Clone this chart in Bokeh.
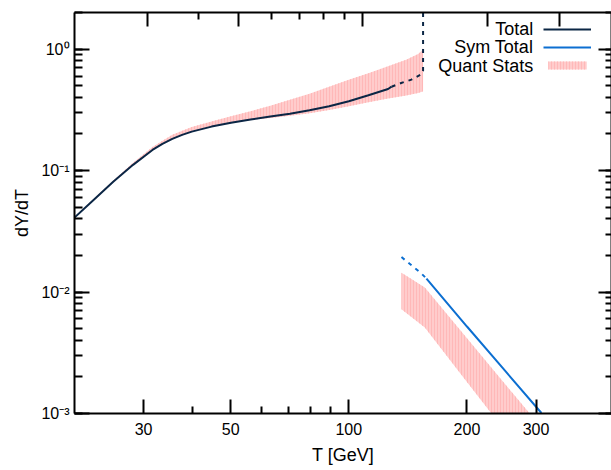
from bokeh.plotting import figure
from bokeh.models import (LogAxis, Range1d, LogScale, FixedTicker, LogTicker,
                          CustomJSTickFormatter, Legend, LegendItem, Label)
from bokeh.embed import file_html
from bokeh.resources import INLINE

# ---- data ----
total_T = [20, 22.4, 25.1, 28.2, 31.6, 33.5, 35.5, 37.6, 39.8, 44.7, 50.1, 56.2, 63.1, 70.8, 79.4, 89.1, 100,
           112.2, 125.9, 128.5]
total_Y = [0.041, 0.0576, 0.0807, 0.1114, 0.1477, 0.1655, 0.1822, 0.1965, 0.2091, 0.2300, 0.2475, 0.2634,
           0.2782, 0.2938, 0.3131, 0.3383, 0.372, 0.4162, 0.4691, 0.49]
total_dash_T = [128.5, 136, 144.4, 153.1, 154.6, 154.6]
total_dash_Y = [0.49, 0.526, 0.56, 0.62, 0.66, 3.0]

sym_dash_T = [136.2, 153.1, 157.7]
sym_dash_Y = [0.0194, 0.0142, 0.0129]
sym_T = [157.7, 200, 250, 309.6]
sym_Y = [0.0129, 0.0052, 0.00225, 0.00101]

band_T = [20, 22.4, 25.1, 28.2, 31.6, 35.5, 39.8, 44.7, 50.1, 56.2, 63.1, 70.8, 79.4, 89.1, 100, 112.2,
          125.9, 140, 150.2, 153.5, 154.6]
band_hi = [0.041, 0.0582, 0.0823, 0.1159, 0.1566, 0.1968, 0.2279, 0.253, 0.2797, 0.3082, 0.3422, 0.382,
           0.429, 0.4905, 0.558, 0.6326, 0.7224, 0.815, 0.91, 0.97, 1.02]
band_lo = [0.041, 0.0576, 0.0807, 0.1114, 0.1477, 0.1822, 0.2091, 0.2300, 0.2475, 0.2608, 0.2712, 0.282,
           0.2959, 0.3146, 0.3385, 0.3642, 0.3917, 0.415, 0.435, 0.445, 0.45]

band2_T = [136.2, 156.2, 200, 230.9, 260, 289]
band2_hi = [0.01443, 0.01087, 0.00417, 0.00238, 0.0015, 0.001]
band2_lo = [0.00722, 0.0051, 0.00182, 0.001, 0.0006, 0.0004]

x_ticks = [30, 50, 100, 200, 300]
x_minor = [40, 60, 70, 80, 90]
legend_labels = ["Total", "Sym Total", "Quant Stats"]

FONT = "Liberation Sans"
NAVY = "#0b2645"
BLUE = "#0c6fd1"
PINK = "#ffcccc"

p = figure(width=611, height=470, x_axis_type="log", y_axis_type="log",
           x_range=Range1d(20, 467), y_range=Range1d(1e-3, 2.0),
           output_backend="svg", toolbar_location=None,
           min_border_left=74, min_border_right=0, min_border_top=12, min_border_bottom=57)
p.extra_x_ranges = {"x2": Range1d(20, 400)}
p.extra_x_scales = {"x2": LogScale()}
p.xgrid.visible = False
p.ygrid.visible = False
p.outline_line_color = None
p.background_fill_color = "white"
p.border_fill_color = "white"

band_style = dict(fill_color=PINK, hatch_pattern="vertical_line", hatch_color="#ffb8b8",
                  hatch_scale=3, hatch_weight=1)
r_band = p.varea(x=band_T, y1=band_lo, y2=band_hi, **band_style)
p.varea(x=band2_T, y1=band2_lo, y2=band2_hi, **band_style)

r_total = p.line(total_T, total_Y, line_color=NAVY, line_width=2)
p.line(total_dash_T, total_dash_Y, line_color=NAVY, line_width=2, line_dash="4 5")
r_sym = p.line(sym_T, sym_Y, line_color=BLUE, line_width=2)
p.line(sym_dash_T, sym_dash_Y, line_color=BLUE, line_width=2, line_dash="4 5")

ytick_fmt = CustomJSTickFormatter(code="""
const e = Math.round(Math.log10(tick));
const m = {'-':'\\u207b','0':'\\u2070','1':'\\u00b9','2':'\\u00b2','3':'\\u00b3','4':'\\u2074'};
return '10' + String(e).split('').map(c => m[c]).join('');
""")
blank_fmt = CustomJSTickFormatter(code="return '';")

def style(ax, major_in, minor_in):
    ax.axis_line_width = 2
    ax.axis_line_color = "black"
    ax.major_tick_line_width = 2
    ax.minor_tick_line_width = 2
    ax.major_tick_in = major_in
    ax.major_tick_out = 0
    ax.minor_tick_in = minor_in
    ax.minor_tick_out = 0
    ax.major_label_text_font = FONT
    ax.major_label_text_font_size = "16px"
    ax.major_label_text_color = "black"
    ax.axis_label_text_font = FONT
    ax.axis_label_text_font_size = "18px"
    ax.axis_label_text_font_style = "normal"
    ax.axis_label_text_color = "black"

# left y axis
ya = p.yaxis[0]
ya.ticker = LogTicker(num_minor_ticks=10)
ya.formatter = ytick_fmt
ya.axis_label = "dY/dT"
style(ya, 15, 8)
ya.major_label_standoff = 5
ya.axis_label_standoff = 6

# bottom x axis
xa = p.xaxis[0]
xa.ticker = FixedTicker(ticks=x_ticks, minor_ticks=x_minor)
xa.formatter = CustomJSTickFormatter(code="return tick.toString();")
xa.axis_label = "T [GeV]"
style(xa, 14, 7)
xa.major_label_standoff = 9
xa.axis_label_standoff = 7

# top axis (own range, ticks only)
top = LogAxis(x_range_name="x2", ticker=FixedTicker(ticks=x_ticks, minor_ticks=x_minor),
              formatter=blank_fmt)
style(top, 14, 7)
top.major_label_standoff = 0
p.add_layout(top, "above")

# right axis (ticks only)
right = LogAxis(ticker=LogTicker(num_minor_ticks=10), formatter=blank_fmt)
style(right, 13, 6)
right.major_label_standoff = 0
p.add_layout(right, "right")

# gnuplot-style key: right-aligned text, sample to its right
FRAME_H = 470 - 57 - 12
row_top = 19.3 - 12        # top of first key row, below frame top
row_h = 18.3
legend = Legend(items=[LegendItem(label="", renderers=[r_total]),
                       LegendItem(label="", renderers=[r_sym]),
                       LegendItem(label="", renderers=[r_band])],
                location=(543.3 - 74, FRAME_H - row_top - 3 * row_h),
                border_line_color=None, background_fill_alpha=0,
                label_text_font_size="1px", glyph_width=48, glyph_height=10,
                label_height=18, label_width=1, spacing=0, padding=0, margin=0,
                label_standoff=0, orientation="vertical")
legend.item_background_fill_alpha = 0
p.add_layout(legend)

for i, txt in enumerate(legend_labels):
    p.add_layout(Label(x=532.7 - 74, y=FRAME_H - row_top - (i + 0.5) * row_h,
                       x_units="screen", y_units="screen", text=txt,
                       text_align="right", text_baseline="middle",
                       text_font=FONT, text_font_size="18px", text_color="black"))

open("out.html", "w").write(file_html(p, INLINE))
